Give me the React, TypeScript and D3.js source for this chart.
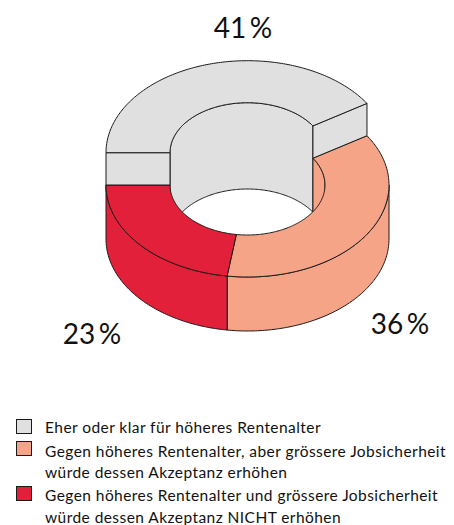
import React, { useEffect, useRef } from 'react';
import * as d3 from 'd3';

const categories = [
  'Eher oder klar für höheres Rentenalter',
  'Gegen höheres Rentenalter, aber grössere Jobsicherheit|würde dessen Akzeptanz erhöhen',
  'Gegen höheres Rentenalter und grössere Jobsicherheit|würde dessen Akzeptanz NICHT erhöhen',
];
const shares = [41, 36.3, 22.7];
const colors = ['#e0e0e0', '#f5a487', '#e32039'];
const raised = [true, false, false];

const width = 454;
const height = 525;
const cx = 247.5;
const outer = { rx: 141.5, ry: 92 };
const inner = { rx: 77.5, ry: 50 };
const planeY = 185; // top of the flat slices
const liftY = 152.7; // top of the raised slice
const floorY = 239; // bottom of the ring

const fontFamily = 'Lato, sans-serif';
const stroke = '#1a1a1a';

type Ring = { rx: number; ry: number };

// point on an ellipse, angle measured clockwise from 12 o'clock like d3.pie
const project = (a: number, ring: Ring, cy: number): [number, number] => [
  cx + ring.rx * Math.sin(a),
  cy - ring.ry * Math.cos(a),
];

const line = d3.line();

function arcPoints(a0: number, a1: number, ring: Ring, cy: number) {
  const n = Math.max(2, Math.ceil(Math.abs(a1 - a0) * 60));
  return d3.range(n + 1).map((i) => project(a0 + ((a1 - a0) * i) / n, ring, cy));
}

// top face of a slice
function sector(a0: number, a1: number, cy: number) {
  return line([...arcPoints(a0, a1, outer, cy), ...arcPoints(a1, a0, inner, cy)]) + 'Z';
}

// curved wall between two levels
function wall(a0: number, a1: number, ring: Ring, topY: number, botY: number) {
  return line([...arcPoints(a0, a1, ring, topY), ...arcPoints(a1, a0, ring, botY)]) + 'Z';
}

// flat cut face at one angle
function cut(a: number, topY: number, botY: number) {
  return line([
    project(a, inner, topY),
    project(a, outer, topY),
    project(a, outer, botY),
    project(a, inner, botY),
  ]) + 'Z';
}

export default function App() {
  const ref = useRef<SVGSVGElement>(null);

  useEffect(() => {
    const svg = d3.select(ref.current);
    svg.selectAll('*').remove();

    const slices = d3
      .pie<number>()
      .sort(null)
      .startAngle(-Math.PI / 2)
      .endAngle((3 * Math.PI) / 2)(shares);

    const add = (d: string, fill: string) =>
      svg
        .append('path')
        .attr('d', d)
        .attr('fill', fill)
        .attr('stroke', stroke)
        .attr('stroke-width', 1)
        .attr('stroke-linejoin', 'round');

    // inner walls first, the top faces cover what hangs below the hole
    slices.forEach((s, i) => {
      const a0 = s.startAngle;
      const a1 = Math.min(s.endAngle, Math.PI / 2);
      if (a0 < a1) add(wall(a0, a1, inner, raised[i] ? liftY : planeY, floorY), colors[i]);
    });

    // outer walls of the front half
    slices.forEach((s, i) => {
      const a0 = Math.max(s.startAngle, Math.PI / 2);
      const a1 = Math.min(s.endAngle, (3 * Math.PI) / 2);
      if (a0 < a1 && !raised[i]) add(wall(a0, a1, outer, planeY, floorY), colors[i]);
    });

    // flat slices, then the raised one on top
    slices.forEach((s, i) => {
      if (!raised[i]) add(sector(s.startAngle, s.endAngle, planeY), colors[i]);
    });
    slices.forEach((s, i) => {
      if (raised[i]) {
        add(cut(s.startAngle, liftY, planeY), colors[i]);
        add(cut(s.endAngle, liftY, planeY), colors[i]);
        add(sector(s.startAngle, s.endAngle, liftY), colors[i]);
      }
    });

    const labelPos: [number, number][] = [[243, 38], [400, 334], [92, 344]];
    shares.forEach((v, i) => {
      svg
        .append('text')
        .attr('x', labelPos[i][0])
        .attr('y', labelPos[i][1])
        .attr('text-anchor', 'middle')
        .attr('font-family', fontFamily)
        .attr('font-size', 28)
        .attr('fill', '#111')
        .text(Math.round(v) + '\u2009%');
    });

    // legend
    const swatchY = [419, 441, 486];
    const lineY = [433, 457, 478, 501, 523];
    let row = 0;
    categories.forEach((c, i) => {
      svg
        .append('rect')
        .attr('x', 16.5)
        .attr('y', swatchY[i] + 0.5)
        .attr('width', 15)
        .attr('height', 14)
        .attr('fill', colors[i])
        .attr('stroke', stroke)
        .attr('stroke-width', 1);
      c.split('|').forEach((t) => {
        svg
          .append('text')
          .attr('x', 45)
          .attr('y', lineY[row++])
          .attr('font-family', fontFamily)
          .attr('font-size', 15.5)
          .attr('letter-spacing', 0.44)
          .attr('fill', '#111')
          .text(t);
      });
    });
  }, []);

  return (
    <svg
      ref={ref}
      width={width}
      height={height}
      style={{ position: 'absolute', left: 0, top: 0, background: '#fff' }}
    />
  );
}
